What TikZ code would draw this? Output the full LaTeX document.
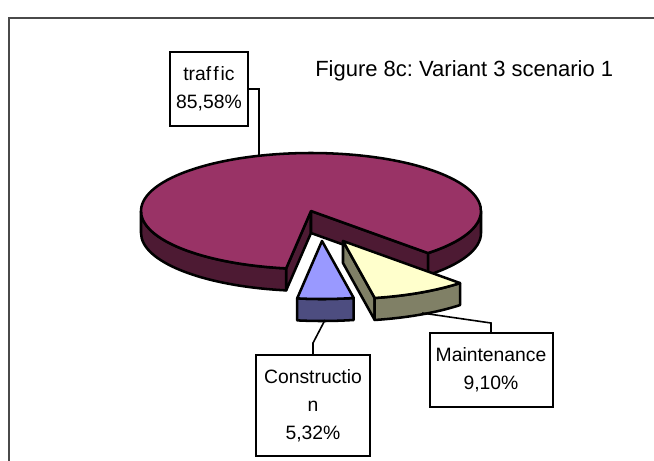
\documentclass[tikz,border=0pt]{standalone}
\usepackage{fontspec}
\setmainfont{Liberation Sans}
\frenchspacing
\definecolor{trafTop}{HTML}{993366}
\definecolor{trafSide}{HTML}{4D1A33}
\definecolor{consTop}{HTML}{9999FF}
\definecolor{consSide}{HTML}{4D4D80}
\definecolor{mainTop}{HTML}{FFFFCC}
\definecolor{mainSide}{HTML}{808066}
\definecolor{frameGray}{HTML}{4A4A4A}
\begin{document}
\begin{tikzpicture}[x=0.75pt,y=0.75pt,
  face/.style={draw=black,line width=1.9pt,line join=round},
  leader/.style={draw=black,line width=1.2pt},
  labelbox/.style={draw=black,line width=1.5pt,fill=white,align=center,
    inner sep=0pt,font=\fontsize{14.5}{21}\selectfont},
  title/.style={font=\fontsize{16.5}{20}\selectfont,inner sep=0pt},
  pie/.style={x radius=170,y radius=58}]
% page and chart frame
\useasboundingbox (0,0) rectangle (654,-461);
\clip (0,0) rectangle (654,-461);
\draw[frameGray,line width=1.2pt] (9,-470) -- (9,-18) -- (670,-18);

% ---- traffic slice (centre 311,-211), from -46.5 to 261.6 degrees, 22 deep
\filldraw[face,fill=trafSide] (311,-211) -- ++(261.6:170 and 58) -- ++(0,-22) -- (311,-233) -- cycle;
\filldraw[face,fill=trafSide] (311,-211) -- ++(-46.5:170 and 58) -- ++(0,-22) -- (311,-233) -- cycle;
\filldraw[face,fill=trafSide] (311,-211) ++(180:170 and 58)
  arc[pie,start angle=180,end angle=261.6] -- ++(0,-22)
  arc[pie,start angle=261.6,end angle=180] -- cycle;
\filldraw[face,fill=trafSide] (311,-211) ++(-46.5:170 and 58)
  arc[pie,start angle=-46.5,end angle=0] -- ++(0,-22)
  arc[pie,start angle=0,end angle=-46.5] -- cycle;
\filldraw[face,fill=trafTop] (311,-211) -- ++(-46.5:170 and 58)
  arc[pie,start angle=-46.5,end angle=261.6] -- cycle;
\coordinate (trafEdge) at (259,-156);

% ---- construction slice (centre 322,-241), from -98.4 to -79.25 degrees
\filldraw[face,fill=consSide] (322,-241) ++(-98.4:170 and 58)
  arc[pie,start angle=-98.4,end angle=-79.25] -- ++(0,-22)
  arc[pie,start angle=-79.25,end angle=-98.4] -- cycle;
\filldraw[face,fill=consTop] (322,-241) -- ++(-98.4:170 and 58)
  arc[pie,start angle=-98.4,end angle=-79.25] -- cycle;
\coordinate (consEdge) at (325,-320);

% ---- maintenance slice (centre 343,-241), from -79.25 to -46.5 degrees
\filldraw[face,fill=mainSide] (343,-241) -- ++(-79.25:170 and 58) -- ++(0,-22) -- (343,-263) -- cycle;
\filldraw[face,fill=mainSide] (343,-241) ++(-79.25:170 and 58)
  arc[pie,start angle=-79.25,end angle=-46.5] -- ++(0,-22)
  arc[pie,start angle=-46.5,end angle=-79.25] -- cycle;
\filldraw[face,fill=mainTop] (343,-241) -- ++(-79.25:170 and 58)
  arc[pie,start angle=-79.25,end angle=-46.5] -- cycle;
\coordinate (mainEdge) at (422,-313);

% ---- title
\node[title,anchor=base west] (ttl) at (315,-76) {Figure 8c: Variant 3 scenario 1};

% ---- data labels
\node[labelbox,text width=58,minimum width=58.5pt,minimum height=55.5pt]
  (trafBox) at (209,-89) {traf\kern1.5pt f\kern1.5pt ic\\85,58\%};
\node[labelbox,text width=80,minimum width=85.5pt,minimum height=75.75pt]
  (consBox) at (313,-405.5) {Constructio\\n\\5,32\%};
\node[labelbox,text width=90,minimum width=92.25pt,minimum height=55.5pt]
  (mainBox) at (491,-370) {Maintenance\\9,10\%};

% ---- leader lines
\draw[leader] (trafBox.east) -| (trafEdge);
\draw[leader] (consEdge) -- (313,-343) -- (consBox.north);
\draw[leader] (mainEdge) -- (491,-323) -- (mainBox.north);
\end{tikzpicture}
\end{document}
